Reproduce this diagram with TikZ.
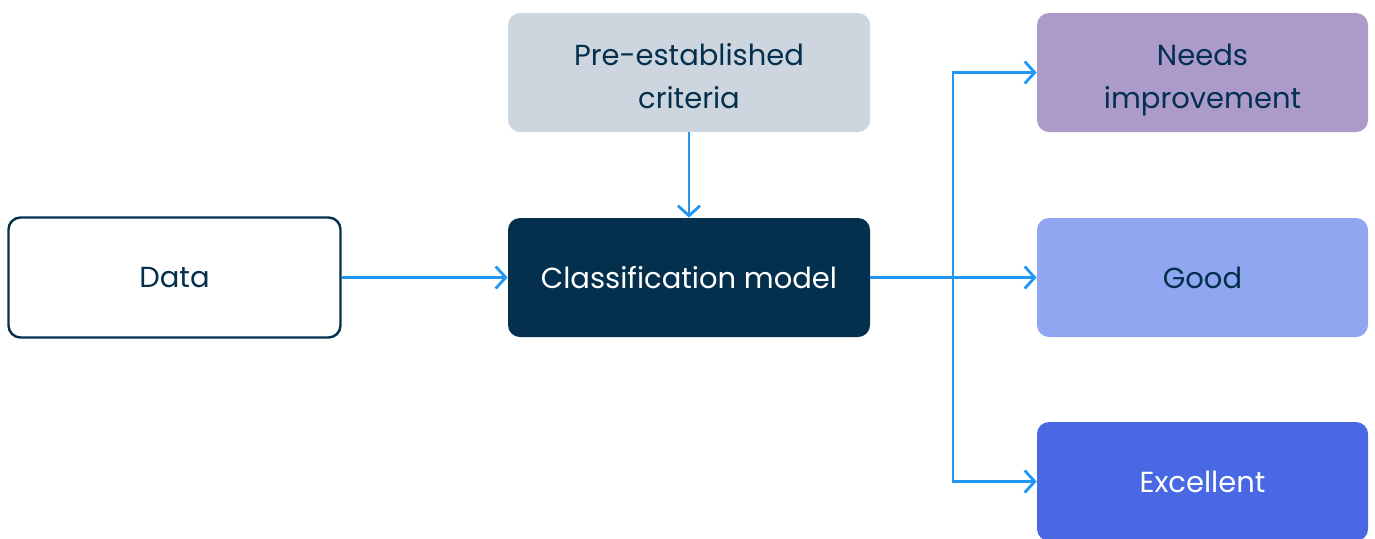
\documentclass[tikz,border=0pt]{standalone}
\usepackage{fontspec}
\setmainfont{Poppins}
\usetikzlibrary{arrows.meta}

\definecolor{navy}{HTML}{04304D}
\definecolor{critgray}{HTML}{CDD6DE}
\definecolor{needspurple}{HTML}{AB9ACA}
\definecolor{goodblue}{HTML}{91A6F0}
\definecolor{excelblue}{HTML}{4869E3}
\definecolor{flowblue}{HTML}{2196F3}

\tikzset{
  boxtext/.style={align=center, text=navy, font=\fontsize{14.5}{21.5}\selectfont},
  box/.style={boxtext, rounded corners=6pt},
  twoline/.style={label={[boxtext, text depth=0pt, yshift=-1.8pt]center:#1}},
  flow/.style={draw=flowblue, line width=1.4pt,
    -{Straight Barb[length=5pt,width=11pt,line width=1.4pt]}},
}

\begin{document}
\begin{tikzpicture}[x=0.5pt, y=-0.5pt]

\useasboundingbox (0,0) rectangle (1375,538);

% Input and criteria
\node[box, draw=navy, line width=1.2pt, fill=white,
  minimum width=332pt*0.5, minimum height=120pt*0.5] (data) at (174.5,277.5) {Data};
\node[box, twoline={Pre-established\\criteria}, fill=critgray,
  minimum width=362pt*0.5, minimum height=119pt*0.5] (crit) at (689,72.5) {};

% Model
\node[box, fill=navy, text=white, minimum width=362pt*0.5, minimum height=119pt*0.5]
  (model) at (689,277.5) {Classification model};

% Outcomes
\node[box, twoline={Needs\\improvement}, fill=needspurple,
  minimum width=331pt*0.5, minimum height=119pt*0.5] (needs) at (1202.5,72.5) {};
\node[box, fill=goodblue, minimum width=331pt*0.5, minimum height=119pt*0.5]
  (good) at (1202.5,277.5) {Good};
\node[box, fill=excelblue, text=white, minimum width=331pt*0.5, minimum height=119pt*0.5]
  (excel) at (1202.5,481.5) {Excellent};

% Connectors
\coordinate (split) at (953,277.5);
\draw[flow] (data) -- (model);
\draw[flow] (crit) -- (model);
\draw[draw=flowblue, line width=1.4pt] (model.east) -- (split);
\draw[flow] (split) |- (needs.west);
\draw[flow] (split) -- (good.west);
\draw[flow] (split) |- (excel.west);

\end{tikzpicture}
\end{document}
